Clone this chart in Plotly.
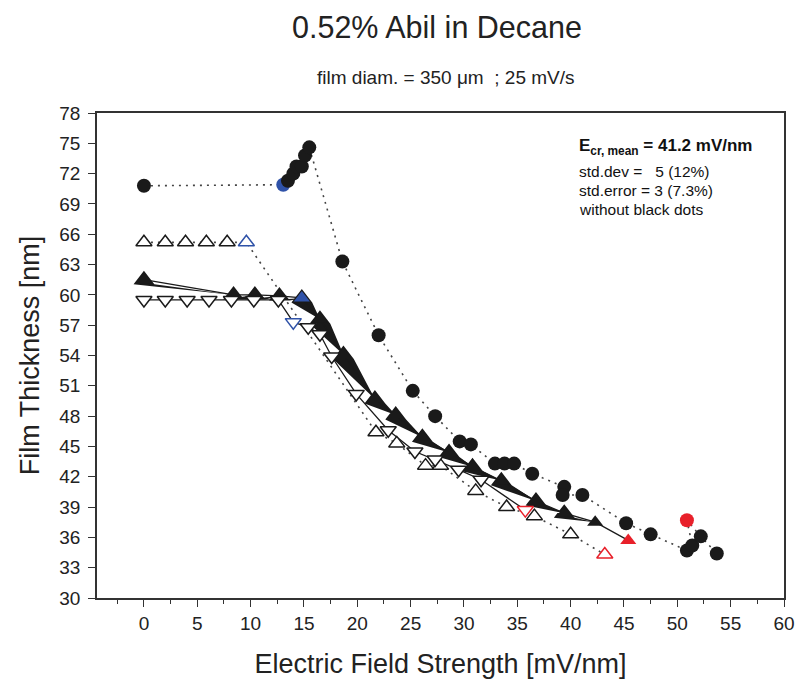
import plotly.graph_objects as go

# ---------------- data ----------------
# filled circles (dotted line)
circ_x = [0.0, 13.06, 13.5, 14.0, 14.3, 14.8, 15.1, 15.5, 18.6, 22.0, 25.2, 27.3, 29.6, 30.65,
          32.9, 33.8, 34.7, 36.4, 39.4, 39.25, 41.1, 45.2, 47.5, 50.9, 51.4, 50.9, 52.2, 53.7]
circ_y = [70.8, 70.9, 71.3, 72.0, 72.7, 72.7, 73.8, 74.6, 63.3, 56.0, 50.5, 48.0, 45.5, 45.2,
          43.3, 43.3, 43.3, 42.3, 41.0, 40.2, 40.2, 37.4, 36.3, 34.7, 35.2, 37.7, 36.1, 34.4]
circ_blue = [1]
circ_red = [25]

# open up-triangles (dotted line)
up_x = [0.0, 2.0, 3.9, 5.85, 7.8, 9.6, 21.75, 23.7, 26.4, 27.8, 31.1, 34.0, 36.6, 40.0, 43.2]
up_y = [65.2, 65.2, 65.2, 65.2, 65.2, 65.2, 46.4, 45.3, 43.1, 43.1, 40.6, 39.0, 38.1, 36.3, 34.3]
up_blue = [5]
up_red = [14]

# filled triangles (solid line, drawn as wedges)
ft_x = [0.0, 8.4, 10.4, 12.7, 14.8, 16.5, 18.7, 21.65, 23.6, 26.1, 28.6, 30.8, 33.5, 36.75,
        39.4, 42.3, 45.4]
ft_y = [61.5, 60.0, 60.0, 59.9, 59.7, 57.6, 54.1, 49.7, 48.1, 45.9, 44.4, 43.0, 41.6, 39.6,
        38.4, 37.5, 35.7]
ft_blue = [4]
ft_red = [16]

# open down-triangles (solid line)
dn_x = [0.0, 2.0, 4.05, 6.1, 8.2, 10.3, 12.6, 14.0, 15.4, 16.5, 17.6, 19.9, 22.9, 25.4, 27.3,
        29.5, 31.6, 35.75]
dn_y = [59.5, 59.5, 59.5, 59.5, 59.5, 59.5, 59.5, 57.3, 56.8, 56.1, 53.9, 50.2, 46.6, 44.5,
        43.7, 42.7, 41.7, 38.7]
dn_blue = [7]
dn_red = [17]

x_ticks = list(range(0, 61, 5))
y_ticks = list(range(30, 79, 3))

# ---------------- styling ----------------
FONT = "Arial, Liberation Sans, sans-serif"
BLACK = "#1a1a1a"
BLUE = "#2f52a8"
RED = "#e8202a"
DOT = "#444444"
DOTDASH = "2px,5px"

X_RANGE = [-4.4, 60]
Y_RANGE = [30, 78]
L, R, T, B = 97, 16, 113, 86
W, H = 800, 684
pxx = (W - L - R) / (X_RANGE[1] - X_RANGE[0])
pxy = (H - T - B) / (Y_RANGE[1] - Y_RANGE[0])


def colors(n, base, blue_idx, red_idx):
    c = [base] * n
    for i in blue_idx:
        c[i] = BLUE
    for i in red_idx:
        c[i] = RED
    return c


fig = go.Figure()

# dotted line for open up-triangles
fig.add_trace(go.Scatter(x=up_x, y=up_y, mode="lines",
                         line=dict(color=DOT, width=1.6, dash=DOTDASH), hoverinfo="skip"))
# dotted line for circles
fig.add_trace(go.Scatter(x=circ_x, y=circ_y, mode="lines",
                         line=dict(color=DOT, width=1.6, dash=DOTDASH), hoverinfo="skip"))

# wedge-like thick connection of filled triangles
wr = 9.0  # wedge half-size in px at the start point
dx = wr * 2 / 3 ** 0.5 / pxx
top = wr / pxy
bot = wr / 2 / pxy
wx, wy = [], []
for i in range(len(ft_x) - 2):
    x0, y0, x1, y1 = ft_x[i], ft_y[i], ft_x[i + 1], ft_y[i + 1]
    Lp = (x0 - dx, y0 - bot)
    Ap = (x0, y0 + top)
    Rp = (x0 + dx, y0 - bot)
    Pp = (x1, y1)
    for tri in [(Lp, Ap, Pp), (Ap, Rp, Pp), (Lp, Rp, Pp)]:
        for p in tri + (tri[0],):
            wx.append(p[0])
            wy.append(p[1])
        wx.append(None)
        wy.append(None)
fig.add_trace(go.Scatter(x=wx, y=wy, mode="lines", fill="toself", fillcolor=BLACK,
                         line=dict(width=0, color=BLACK), hoverinfo="skip"))
fig.add_trace(go.Scatter(x=ft_x, y=ft_y, mode="lines",
                         line=dict(color=BLACK, width=1.3), hoverinfo="skip"))

# down-triangle line
fig.add_trace(go.Scatter(x=dn_x, y=dn_y, mode="lines",
                         line=dict(color=BLACK, width=1.3), hoverinfo="skip"))

# markers
fig.add_trace(go.Scatter(x=up_x, y=up_y, mode="markers",
                         marker=dict(symbol="triangle-up", size=14, color="white",
                                     line=dict(width=1.5, color=colors(len(up_x), BLACK, up_blue, up_red)))))
fig.add_trace(go.Scatter(x=circ_x, y=circ_y, mode="markers",
                         marker=dict(symbol="circle", size=14,
                                     color=colors(len(circ_x), BLACK, circ_blue, circ_red),
                                     line=dict(width=0))))
fig.add_trace(go.Scatter(x=ft_x, y=ft_y, mode="markers",
                         marker=dict(symbol="triangle-up", size=14,
                                     color=colors(len(ft_x), BLACK, ft_blue, ft_red),
                                     line=dict(width=0))))
fig.add_trace(go.Scatter(x=dn_x, y=dn_y, mode="markers",
                         marker=dict(symbol="triangle-down", size=14, color="white",
                                     line=dict(width=1.5, color=colors(len(dn_x), BLACK, dn_blue, dn_red)))))

fig.update_layout(
    width=W, height=H, showlegend=False,
    margin=dict(l=L, r=R, t=T, b=B, autoexpand=False),
    paper_bgcolor="white", plot_bgcolor="white",
    font=dict(family=FONT, color="#222222"),
)
fig.update_xaxes(
    range=X_RANGE, tickvals=x_ticks, ticks="outside", ticklen=7, tickwidth=1.2,
    tickcolor="#333", showgrid=False, zeroline=False, automargin=False,
    showline=True, linecolor="#333", linewidth=1.5, mirror=True,
    tickfont=dict(size=19, family=FONT), ticklabelstandoff=0,
    minor=dict(dtick=2.5, tick0=0, ticks="outside", ticklen=4, tickcolor="#333", tickwidth=1.2),
    title=dict(text="Electric Field Strength [mV/nm]", font=dict(size=27, family=FONT), standoff=22),
)
fig.update_yaxes(
    range=Y_RANGE, tickvals=y_ticks, ticks="outside", ticklen=7, tickwidth=1.2,
    tickcolor="#333", showgrid=False, zeroline=False, automargin=False,
    showline=True, linecolor="#333", linewidth=1.5, mirror=True,
    tickfont=dict(size=19, family=FONT), ticklabelstandoff=4,
    title=dict(text="Film Thickness [nm]", font=dict(size=27, family=FONT), standoff=12),
)

titles = [
    ("0.52% Abil in Decane", 0.495, 1.177, 30.5),
    ("film diam. = 350 \u03bcm  ; 25 mV/s", 0.508, 1.074, 19),
]
for txt, xx, yy, sz in titles:
    fig.add_annotation(xref="paper", yref="paper", xanchor="center", yanchor="middle",
                       showarrow=False, text=txt, x=xx, y=yy,
                       font=dict(family=FONT, color="#222", size=sz))

box_lines = [
    ("<b>E<sub>cr, mean</sub> = 41.2 mV/nm</b>", 17, 0.929),
    ("std.dev =   5 (12%)", 15.5, 0.880),
    ("std.error = 3 (7.3%)", 15.5, 0.840),
    ("without black dots", 15.5, 0.801),
]
for txt, sz, yy in box_lines:
    fig.add_annotation(xref="paper", yref="paper", xanchor="left", yanchor="middle",
                       x=0.699, y=yy, showarrow=False, text=txt,
                       font=dict(family=FONT, color="#111", size=sz))

fig.write_html("out.html", config={"displayModeBar": False},
               post_script="document.body.style.margin='0px';")
